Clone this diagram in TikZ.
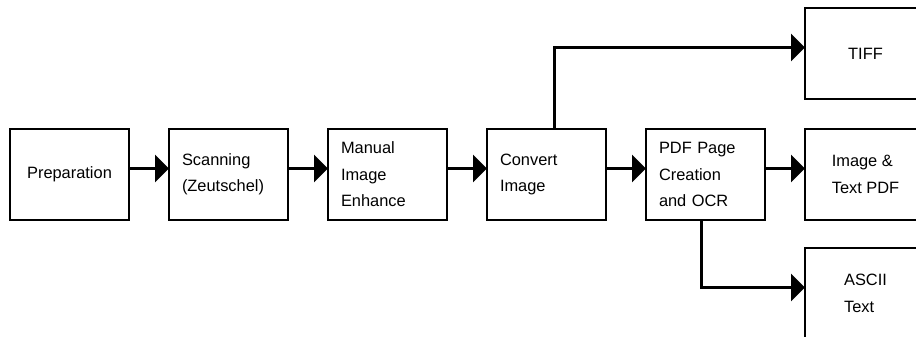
\documentclass[tikz,border=0pt]{standalone}
\usepackage{fontspec}
\setmainfont{Liberation Sans}
\usetikzlibrary{arrows.meta, positioning}
\tikzset{
  stage/.style={rectangle, draw, line width=2.7pt, outer sep=0pt, inner sep=0pt,
    minimum width=119pt, minimum height=91pt, text width=93pt, align=left},
  result/.style={rectangle, draw, line width=2.7pt, outer sep=0pt,
    minimum width=121pt, minimum height=91pt, align=left},
  arrow/.style={-{Triangle[length=14pt,width=27pt]}, line width=2.7pt}
}

\begin{document}
\begin{tikzpicture}[x=1pt, y=1pt, font=\fontsize{16.4}{26.5}\selectfont]
  \clip (0,0) rectangle (916,337);

  % processing chain
  \node[stage, align=center] (prep) at (69.5,162.5) {Preparation};
  \node[stage, right=40pt of prep] (scan) {Scanning\\(Zeutschel)};
  \node[stage, right=40pt of scan] (enh) {Manual\\Image\\Enhance};
  \node[stage, right=40pt of enh] (conv) {Convert\\Image};
  \node[stage, right=40pt of conv] (pdf) {PDF Page\\Creation\\and OCR};

  % outputs
  \node[result, right=40pt of pdf] (imgpdf) {Image \&\\Text PDF};
  \node[result, above=30pt of imgpdf] (tiff) {TIFF};
  \node[result, below=28pt of imgpdf] (ascii) {ASCII\\Text};

  % connectors
  \draw[arrow] ([yshift=6pt]prep.east) -- ([yshift=6pt]scan.west);
  \draw[arrow] ([yshift=6pt]scan.east) -- ([yshift=6pt]enh.west);
  \draw[arrow] ([yshift=6pt]enh.east) -- ([yshift=6pt]conv.west);
  \draw[arrow] ([yshift=6pt]conv.east) -- ([yshift=6pt]pdf.west);
  \draw[arrow] ([yshift=6pt]pdf.east) -- ([yshift=6pt]imgpdf.west);
  \draw[arrow] ([xshift=8pt]conv.north) |- ([yshift=6pt]tiff.west);
  \draw[arrow] ([xshift=-4pt]pdf.south) |- ([yshift=6pt]ascii.west);
\end{tikzpicture}
\end{document}
